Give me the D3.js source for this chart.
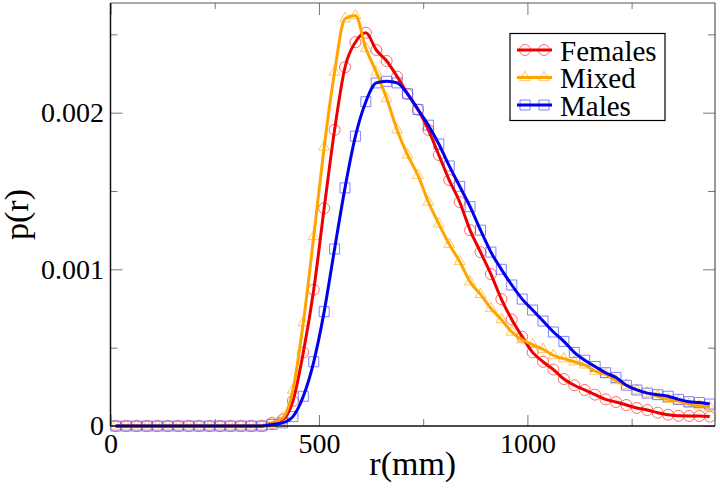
<!DOCTYPE html>
<html>
<head>
<meta charset="utf-8">
<script src="https://cdn.jsdelivr.net/npm/d3@7/dist/d3.min.js"></script>
<style>
  html, body { margin: 0; padding: 0; background: #fff; }
  svg { display: block; }
  svg text { font-family: "Liberation Serif", "Times New Roman", Times, "DejaVu Serif", serif !important; fill: #000; }
</style>
</head>
<body>
<svg id="chart" width="720" height="491"></svg>
<script>
// ---- data ----
const r = [12.5, 37.5, 62.5, 87.5, 112.5, 137.5, 162.5, 187.5, 212.5, 237.5,
           262.5, 287.5, 312.5, 337.5, 362.5, 387.5, 412.5, 437.5, 462.5, 487.5,
           512.5, 537.5, 562.5, 587.5, 612.5, 637.5, 662.5, 687.5, 712.5, 737.5,
           762.5, 787.5, 812.5, 837.5, 862.5, 887.5, 912.5, 937.5, 962.5, 987.5,
           1012.5, 1037.5, 1062.5, 1087.5, 1112.5, 1137.5, 1162.5, 1187.5, 1212.5, 1237.5,
           1262.5, 1287.5, 1312.5, 1337.5, 1362.5, 1387.5, 1412.5, 1437.5];

const females = [0, 0, 0, 0, 0, 0, 0, 0, 0, 0,
                 0, 0, 0, 0, 0, 0.00002, 0.00004, 0.00016, 0.00047, 0.00087,
                 0.00139, 0.00189, 0.00229, 0.00245, 0.00251, 0.00240, 0.00233, 0.00223, 0.00212, 0.00202,
                 0.00189, 0.00173, 0.00157, 0.00143, 0.00125, 0.00111, 0.00097, 0.00081, 0.00068, 0.00057,
                 0.00047, 0.00041, 0.00036, 0.00030, 0.00026, 0.00023, 0.00020, 0.00017, 0.000153, 0.000134,
                 0.000115, 0.000102, 0.000085, 0.000072, 0.000065, 0.000064, 0.000064, 0.00006];

const mixed = [0, 0, 0, 0, 0, 0, 0, 0, 0, 0,
               0, 0, 0, 0, 0, 0.00002, 0.00005, 0.00023, 0.00066, 0.00121,
               0.00178, 0.00226, 0.00260, 0.00262, 0.00241, 0.00226, 0.00209, 0.00189, 0.00173, 0.00160,
               0.00143, 0.00129, 0.00116, 0.00105, 0.00092, 0.00084, 0.00075, 0.00068, 0.00060, 0.00055,
               0.00052, 0.00049, 0.00045, 0.00043, 0.00041, 0.00039, 0.00035, 0.00033, 0.00029, 0.00026,
               0.00023, 0.00021, 0.00019, 0.00017, 0.00016, 0.00014, 0.00013, 0.00012];

const males = [0, 0, 0, 0, 0, 0, 0, 0, 0, 0,
               0, 0, 0, 0, 0, 0.00001, 0.00002, 0.00006, 0.00019, 0.00041,
               0.00073, 0.00113, 0.00152, 0.00185, 0.00207, 0.00219, 0.00220, 0.00219, 0.00212, 0.00202,
               0.00192, 0.00180, 0.00166, 0.00153, 0.00140, 0.00125, 0.00111, 0.00100, 0.00090, 0.00081,
               0.00074, 0.00067, 0.00060, 0.00054, 0.00047, 0.00042, 0.00038, 0.00034, 0.00031, 0.00026,
               0.00023, 0.00021, 0.00020, 0.00019, 0.00017, 0.000155, 0.00015, 0.00014];

const seriesNames = ["Females", "Mixed", "Males"];
const xMajorTicks = [0, 500, 1000];
const xMinorTicks = [250, 750, 1250];
const yMajorTicks = [0, 0.001, 0.002];
const yMinorTicks = [0.0005, 0.0015, 0.0025];
const yTickLabels = ["0", "0.001", "0.002"];
const xLabel = "r(mm)";
const yLabel = "p(r)";

// ---- layout ----
const W = 720, H = 491;
const m = { left: 110.5, right: 5, top: 3, bottom: 65 };
const iw = W - m.left - m.right, ih = H - m.top - m.bottom;

const svg = d3.select("#chart");
const g = svg.append("g").attr("transform", `translate(${m.left},${m.top})`);

const x = d3.scaleLinear().domain([0, 1450]).range([0, iw]);
const y = d3.scaleLinear().domain([0, 0.0027]).range([ih, 0]);

const styles = [
  { name: seriesNames[0], values: females, line: "#ee0000", mark: "#ff3b3b", shape: "circle" },
  { name: seriesNames[1], values: mixed,   line: "#ffa500", mark: "#ffb52e", shape: "triangle" },
  { name: seriesNames[2], values: males,   line: "#0000ee", mark: "#5a5aff", shape: "square" }
];

// ---- axes (ticks inward) ----
const tickColor = "#777";
function styleAxis(sel) {
  sel.attr("font-family", null);
  sel.select(".domain").remove();
  sel.selectAll(".tick line").attr("stroke", tickColor).attr("stroke-width", 1);
  sel.selectAll(".tick text").attr("font-size", 28);
}
// bottom
g.append("g").attr("transform", `translate(0,${ih})`)
  .call(d3.axisBottom(x).tickValues(xMajorTicks).tickSizeInner(-11).tickSizeOuter(0).tickPadding(7).tickFormat(d3.format("d")))
  .call(styleAxis);
g.append("g").attr("transform", `translate(0,${ih})`)
  .call(d3.axisBottom(x).tickValues(xMinorTicks).tickSizeInner(-7).tickSizeOuter(0).tickFormat(""))
  .call(styleAxis);
// top
g.append("g")
  .call(d3.axisTop(x).tickValues(xMajorTicks).tickSizeInner(-12).tickSizeOuter(0).tickFormat(""))
  .call(styleAxis);
g.append("g")
  .call(d3.axisTop(x).tickValues(xMinorTicks).tickSizeInner(-6).tickSizeOuter(0).tickFormat(""))
  .call(styleAxis);
// left
g.append("g")
  .call(d3.axisLeft(y).tickValues(yMajorTicks).tickSizeInner(-12).tickSizeOuter(0).tickPadding(6.5)
        .tickFormat((d, i) => yTickLabels[i]))
  .call(styleAxis);
g.append("g")
  .call(d3.axisLeft(y).tickValues(yMinorTicks).tickSizeInner(-7).tickSizeOuter(0).tickFormat(""))
  .call(styleAxis);
// right
g.append("g").attr("transform", `translate(${iw},0)`)
  .call(d3.axisRight(y).tickValues(yMajorTicks).tickSizeInner(-12).tickSizeOuter(0).tickFormat(""))
  .call(styleAxis);
g.append("g").attr("transform", `translate(${iw},0)`)
  .call(d3.axisRight(y).tickValues(yMinorTicks).tickSizeInner(-7).tickSizeOuter(0).tickFormat(""))
  .call(styleAxis);

// ---- markers ----
const symCircle = d3.symbol().type(d3.symbolCircle).size(Math.PI * 5.5 * 5.5);
const symTri = d3.symbol().type(d3.symbolTriangle).size(52);
const symSquare = d3.symbol().type(d3.symbolSquare).size(100);
const shapeGen = { circle: symCircle, triangle: symTri, square: symSquare };

styles.forEach(s => {
  g.append("g").selectAll("path")
    .data(r.map((rv, i) => [rv, s.values[i]]))
    .join("path")
    .attr("transform", d => `translate(${x(d[0])},${y(d[1])})`)
    .attr("d", shapeGen[s.shape]())
    .attr("fill", "none")
    .attr("stroke", s.mark)
    .attr("stroke-width", 1)
    .attr("stroke-opacity", 0.75);
});

// ---- lines ----
const line = d3.line().x(d => x(d[0])).y(d => y(d[1])).curve(d3.curveMonotoneX);
styles.forEach(s => {
  g.append("path")
    .datum(r.map((rv, i) => [rv, s.values[i]]))
    .attr("d", line)
    .attr("fill", "none")
    .attr("stroke", s.line)
    .attr("stroke-width", 3)
    .attr("stroke-linejoin", "round");
});

// ---- frame ----
g.append("line").attr("x1", 0).attr("x2", iw).attr("y1", 0).attr("y2", 0).attr("stroke", "#555").attr("stroke-width", 1.2);
g.append("line").attr("x1", iw).attr("x2", iw).attr("y1", 0).attr("y2", ih).attr("stroke", "#555").attr("stroke-width", 1.2);
g.append("line").attr("x1", 0).attr("x2", 0).attr("y1", 0).attr("y2", ih).attr("stroke", "#111").attr("stroke-width", 1.5);
g.append("line").attr("x1", 0).attr("x2", iw).attr("y1", ih).attr("y2", ih).attr("stroke", "#111").attr("stroke-width", 1.5);

// ---- axis titles ----
svg.append("text")
  .attr("x", m.left + iw / 2).attr("y", 475)
  .attr("text-anchor", "middle").attr("font-size", 34)
  .text(xLabel);
svg.append("text")
  .attr("transform", `translate(28,${m.top + ih / 2}) rotate(-90)`)
  .attr("text-anchor", "middle").attr("font-size", 34)
  .text(yLabel);

// ---- legend ----
const lg = svg.append("g").attr("transform", "translate(510,33.5)");
lg.append("rect").attr("width", 155).attr("height", 87)
  .attr("fill", "#fff").attr("stroke", "#000").attr("stroke-width", 1.2);
styles.forEach((s, i) => {
  const cy = 16.5 + i * 27.5;
  [15, 34].forEach(cx => {
    lg.append("path")
      .attr("transform", `translate(${cx},${cy})`)
      .attr("d", shapeGen[s.shape]())
      .attr("fill", "none").attr("stroke", s.mark).attr("stroke-width", 1).attr("stroke-opacity", 0.75);
  });
  lg.append("line").attr("x1", 7).attr("x2", 42).attr("y1", cy).attr("y2", cy)
    .attr("stroke", s.line).attr("stroke-width", 3);
  lg.append("text").attr("x", 50).attr("y", cy + 10.5)
    .attr("font-size", 29).text(s.name);
});
</script>
</body>
</html>
